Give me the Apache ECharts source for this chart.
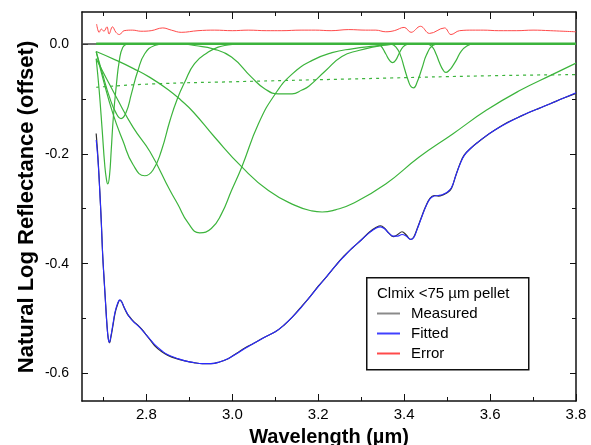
<!DOCTYPE html>
<html>
<head>
<meta charset="utf-8">
<script src="https://cdn.jsdelivr.net/npm/echarts@6/dist/echarts.min.js"></script>
<style>
html,body{margin:0;padding:0;background:#fff;}
#chart{width:591px;height:445px;}
</style>
</head>
<body>
<div id="chart"></div>
<script>
// ---- tick / label values ----
const xMajorTicks = [2.8, 3.0, 3.2, 3.4, 3.6, 3.8];
const xMinorTicks = [2.7, 2.9, 3.1, 3.3, 3.5, 3.7];
const xLabels = [2.8, 3.0, 3.2, 3.4, 3.6, 3.8];
const yMajorTicks = [0, -0.2, -0.4, -0.6];
const yMinorTicks = [-0.1, -0.3, -0.5];
const yLabels = [0, -0.2, -0.4, -0.6];

// ---- series data [wavelength, value] ----
const measured = [
[2.683,-0.163],[2.687,-0.205],[2.691,-0.261],[2.695,-0.325],[2.698,-0.382],[2.702,-0.435],[2.705,-0.473],
[2.708,-0.510],[2.711,-0.535],[2.714,-0.544],[2.717,-0.535],[2.722,-0.513],[2.727,-0.490],[2.733,-0.474],
[2.738,-0.467],[2.742,-0.469],[2.748,-0.480],[2.755,-0.491],[2.762,-0.498],[2.770,-0.505],[2.780,-0.512],
[2.790,-0.520],[2.800,-0.530],[2.810,-0.540],[2.820,-0.550],[2.835,-0.560],[2.850,-0.567],[2.870,-0.573],
[2.890,-0.577],[2.910,-0.580],[2.930,-0.582],[2.950,-0.582],[2.970,-0.579],[2.990,-0.573],[3.010,-0.563],
[3.030,-0.553],[3.050,-0.545],[3.075,-0.534],[3.100,-0.524],[3.120,-0.512],[3.140,-0.497],[3.160,-0.479],
[3.180,-0.461],[3.200,-0.441],[3.220,-0.423],[3.240,-0.404],[3.260,-0.386],[3.280,-0.371],[3.300,-0.357],
[3.320,-0.342],[3.335,-0.334],[3.345,-0.331],[3.355,-0.336],[3.365,-0.345],[3.375,-0.351],[3.385,-0.347],
[3.395,-0.342],[3.405,-0.348],[3.415,-0.356],[3.422,-0.352],[3.430,-0.337],[3.440,-0.316],[3.450,-0.296],
[3.460,-0.281],[3.470,-0.276],[3.480,-0.277],[3.490,-0.275],[3.500,-0.271],[3.510,-0.263],[3.520,-0.240],
[3.530,-0.218],[3.540,-0.202],[3.555,-0.190],[3.570,-0.180],[3.590,-0.168],[3.615,-0.155],[3.640,-0.143],
[3.665,-0.134],[3.690,-0.125],[3.715,-0.117],[3.740,-0.109],[3.770,-0.099],[3.800,-0.090]
];
const fitted = [
[2.683,-0.175],[2.687,-0.210],[2.691,-0.263],[2.695,-0.326],[2.698,-0.382],[2.702,-0.436],[2.705,-0.474],
[2.708,-0.511],[2.711,-0.536],[2.714,-0.543],[2.717,-0.533],[2.722,-0.510],[2.727,-0.488],[2.733,-0.472],
[2.738,-0.466],[2.742,-0.469],[2.748,-0.479],[2.755,-0.490],[2.762,-0.499],[2.770,-0.506],[2.780,-0.513],
[2.790,-0.521],[2.800,-0.530],[2.810,-0.539],[2.820,-0.548],[2.835,-0.558],[2.850,-0.566],[2.870,-0.572],
[2.890,-0.577],[2.910,-0.580],[2.930,-0.582],[2.950,-0.582],[2.970,-0.579],[2.990,-0.573],[3.010,-0.564],
[3.030,-0.554],[3.050,-0.545],[3.075,-0.534],[3.100,-0.524],[3.120,-0.512],[3.140,-0.497],[3.160,-0.480],
[3.180,-0.461],[3.200,-0.442],[3.220,-0.423],[3.240,-0.404],[3.260,-0.387],[3.280,-0.371],[3.300,-0.357],
[3.320,-0.343],[3.335,-0.335],[3.345,-0.333],[3.355,-0.337],[3.365,-0.345],[3.375,-0.350],[3.385,-0.350],
[3.395,-0.347],[3.405,-0.350],[3.415,-0.356],[3.422,-0.353],[3.430,-0.338],[3.440,-0.317],[3.450,-0.297],
[3.460,-0.282],[3.470,-0.277],[3.480,-0.276],[3.490,-0.274],[3.500,-0.270],[3.510,-0.262],[3.520,-0.240],
[3.530,-0.219],[3.540,-0.203],[3.555,-0.190],[3.570,-0.180],[3.590,-0.168],[3.615,-0.155],[3.640,-0.144],
[3.665,-0.134],[3.690,-0.125],[3.715,-0.117],[3.740,-0.109],[3.770,-0.099],[3.800,-0.089]
];
const errorRes = [
[2.684,0.036],[2.690,0.021],[2.695,0.027],[2.701,0.023],[2.708,0.031],[2.713,0.018],[2.721,0.031],
[2.729,0.021],[2.737,0.017],[2.748,0.024],[2.768,0.025],[2.787,0.023],[2.811,0.024],[2.838,0.029],
[2.858,0.025],[2.881,0.021],[2.920,0.024],[2.959,0.025],[3.000,0.024],[3.037,0.025],[3.080,0.024],
[3.115,0.024],[3.160,0.025],[3.193,0.025],[3.230,0.024],[3.271,0.026],[3.310,0.025],[3.334,0.025],
[3.357,0.022],[3.377,0.024],[3.400,0.030],[3.416,0.021],[3.438,0.032],[3.459,0.019],[3.494,0.029],
[3.509,0.017],[3.529,0.024],[3.560,0.025],[3.584,0.025],[3.620,0.024],[3.662,0.024],[3.700,0.025],
[3.740,0.024],[3.770,0.023],[3.800,0.022]
];
const band271 = [
[2.683,-0.027],[2.690,-0.085],[2.697,-0.157],[2.703,-0.221],[2.707,-0.247],[2.710,-0.255],[2.714,-0.240],
[2.718,-0.194],[2.723,-0.133],[2.730,-0.075],[2.737,-0.030],[2.745,-0.006],[2.755,0]
];
const band274 = [
[2.683,-0.014],[2.698,-0.055],[2.714,-0.097],[2.730,-0.127],[2.741,-0.136],[2.753,-0.124],[2.765,-0.091],
[2.780,-0.049],[2.796,-0.018],[2.819,-0.003],[2.840,0]
];
const band280 = [
[2.683,-0.014],[2.698,-0.061],[2.722,-0.127],[2.745,-0.176],[2.769,-0.220],[2.796,-0.240],[2.815,-0.230],
[2.835,-0.194],[2.855,-0.139],[2.872,-0.100],[2.889,-0.070],[2.912,-0.036],[2.944,-0.015],[2.967,-0.006],
[2.990,-0.002],[3.010,0]
];
const band292 = [
[2.683,-0.027],[2.730,-0.097],[2.769,-0.152],[2.808,-0.196],[2.855,-0.267],[2.873,-0.292],[2.897,-0.326],
[2.924,-0.344],[2.951,-0.336],[2.975,-0.309],[2.998,-0.267],[3.022,-0.224],[3.061,-0.145],[3.100,-0.091],
[3.139,-0.055],[3.186,-0.030],[3.232,-0.016],[3.279,-0.009],[3.330,-0.004],[3.380,0]
];
const band320 = [
[2.683,-0.014],[2.730,-0.030],[2.770,-0.045],[2.808,-0.061],[2.850,-0.083],[2.881,-0.103],[2.909,-0.124],
[2.959,-0.170],[3.022,-0.224],[3.084,-0.267],[3.146,-0.294],[3.185,-0.304],[3.209,-0.306],[3.240,-0.302],
[3.279,-0.291],[3.357,-0.255],[3.435,-0.206],[3.513,-0.164],[3.591,-0.121],[3.669,-0.085],[3.747,-0.055],
[3.800,-0.035]
];
const band312 = [
[2.890,0],[2.912,-0.003],[2.955,-0.009],[2.998,-0.024],[3.045,-0.061],[3.076,-0.082],[3.107,-0.091],
[3.139,-0.091],[3.162,-0.084],[3.178,-0.077],[3.217,-0.049],[3.255,-0.023],[3.294,-0.012],[3.333,-0.005],
[3.348,-0.003],[3.380,0]
];
const band337 = [
[3.335,0],[3.345,-0.003],[3.357,-0.018],[3.366,-0.030],[3.373,-0.034],[3.380,-0.030],[3.388,-0.018],
[3.398,-0.005],[3.410,0]
];
const band342 = [
[3.370,0],[3.381,-0.006],[3.391,-0.020],[3.400,-0.043],[3.410,-0.068],[3.416,-0.078],[3.422,-0.080],
[3.430,-0.070],[3.442,-0.043],[3.452,-0.020],[3.466,-0.003],[3.480,0]
];
const band350 = [
[3.455,0],[3.466,-0.006],[3.475,-0.020],[3.482,-0.034],[3.490,-0.047],[3.497,-0.052],[3.505,-0.048],
[3.513,-0.040],[3.521,-0.030],[3.533,-0.013],[3.548,-0.003],[3.560,0]
];
const continuum = [
[2.683,-0.079],[2.811,-0.073],[3.000,-0.069],[3.270,-0.064],[3.600,-0.058],[3.800,-0.056]
];
const baseline = [[2.683,0],[3.800,0]];

const xMin = 2.65, xMax = 3.8, yMin = -0.65, yMax = 0.058;
const FONT = '"Liberation Sans", Arial, sans-serif';
const GREEN = '#3cb43c';

const chart = echarts.init(document.getElementById('chart'), null, {renderer:'canvas'});

function xAx(pos, ticks, len, showLine, labels){
  return {
    type:'value', min:xMin, max:xMax, position:pos,
    axisLine:{show:showLine, onZero:false, lineStyle:{color:'#111', width:1.5}},
    axisTick:{show:true, inside:true, length:len, customValues:ticks, lineStyle:{color:'#111', width:1}},
    axisLabel: labels ? {show:true, customValues:labels, formatter:v=>Number(v).toFixed(1), margin:6,
      fontSize:15, color:'#000', fontFamily:FONT} : {show:false},
    splitLine:{show:false}
  };
}
function yAx(pos, ticks, len, showLine, labels){
  return {
    type:'value', min:yMin, max:yMax, position:pos,
    axisLine:{show:showLine, onZero:false, lineStyle:{color:'#111', width:1.5}},
    axisTick:{show:true, inside:true, length:len, customValues:ticks, lineStyle:{color:'#111', width:1}},
    axisLabel: labels ? {show:true, customValues:labels, formatter:v=>Number(v).toFixed(1), margin:13,
      fontSize:14, color:'#000', fontFamily:FONT} : {show:false},
    splitLine:{show:false}
  };
}

const xAxes = [
  Object.assign(xAx('bottom', xMajorTicks, 7, true, xLabels), {
    name:'Wavelength (µm)', nameLocation:'middle', nameGap:26,
    nameTextStyle:{fontSize:20, fontWeight:'bold', color:'#000', fontFamily:FONT}
  }),
  xAx('bottom', xMinorTicks, 4, false, null),
  xAx('top', xMajorTicks, 7, true, null),
  xAx('top', xMinorTicks, 4, false, null)
];
const yAxes = [
  yAx('left', yMajorTicks, 6, true, yLabels),
  yAx('left', yMinorTicks, 4, false, null),
  yAx('right', yMajorTicks, 6, true, null),
  yAx('right', yMinorTicks, 4, false, null)
];

function greenLine(name, data, dashed){
  return {
    name, type:'line', data, showSymbol:false, symbol:'none', smooth:0.5,
    lineStyle:{color:GREEN, width: 1.2, type: dashed ? [3,4] : 'solid'},
    itemStyle:{color:GREEN}, z:3, silent:true, animation:false
  };
}

const option = {
  animation:false,
  backgroundColor:'#fff',
  grid:{left:82, right:15, top:12, bottom:44, containLabel:false, outerBoundsMode:'none'},
  xAxis:xAxes,
  yAxis:yAxes,
  legend:{
    orient:'vertical', left:377, top:306, itemGap:5, itemWidth:23, itemHeight:2, icon:'rect',
    padding:0, z:10,
    textStyle:{fontSize:15, color:'#000', fontFamily:FONT, padding:[0,0,0,6]},
    data:[
      {name:'Measured', itemStyle:{color:'#8a8a8a'}},
      {name:'Fitted', itemStyle:{color:'#4040ff'}},
      {name:'Error', itemStyle:{color:'#ff4a4a'}}
    ]
  },
  graphic:[
    {type:'text', x:27, y:207, rotation:Math.PI/2, z:11,
     style:{text:'Natural Log Reflectance (offset)', align:'center', verticalAlign:'middle',
       font:'bold 22px "Liberation Sans", Arial, sans-serif', fill:'#000'}},
    {type:'rect', left:366, top:277, z:5, shape:{width:162, height:92},
     style:{fill:'#fff', stroke:'#111', lineWidth:1.5}},
    {type:'text', left:377, top:286, z:11,
     style:{text:'Clmix <75 µm pellet', font:'15px "Liberation Sans", Arial, sans-serif', fill:'#000'}}
  ],
  series:[
    {name:'zero', type:'line', data:[], silent:true, z:1,
     markLine:{silent:true, symbol:'none', label:{show:false}, z:1,
       lineStyle:{color:'#444', width:1.5, type:'solid'}, data:[{yAxis:0}]}},
    greenLine('baseline', baseline, false),
    greenLine('b271', band271), greenLine('b274', band274), greenLine('b280', band280),
    greenLine('b292', band292), greenLine('b320', band320), greenLine('b312', band312),
    greenLine('b337', band337), greenLine('b342', band342), greenLine('b350', band350),
    greenLine('continuum', continuum, true),
    {name:'Error', type:'line', data:errorRes, symbol:'none', smooth:0.4,
     lineStyle:{color:'#ff4a4a', width:1}, itemStyle:{color:'#ff4a4a'}, z:4},
    {name:'Measured', type:'line', data:measured, symbol:'none', smooth:0.4,
     lineStyle:{color:'#303030', width:1.2}, itemStyle:{color:'#303030'}, z:4},
    {name:'Fitted', type:'line', data:fitted, symbol:'none', smooth:0.4,
     lineStyle:{color:'#2a2aff', width:1.1}, itemStyle:{color:'#2a2aff'}, z:5}
  ]
};
option.series[1].lineStyle.width = 2.5;
option.series[1].z = 4;
chart.setOption(option);
</script>
</body>
</html>
